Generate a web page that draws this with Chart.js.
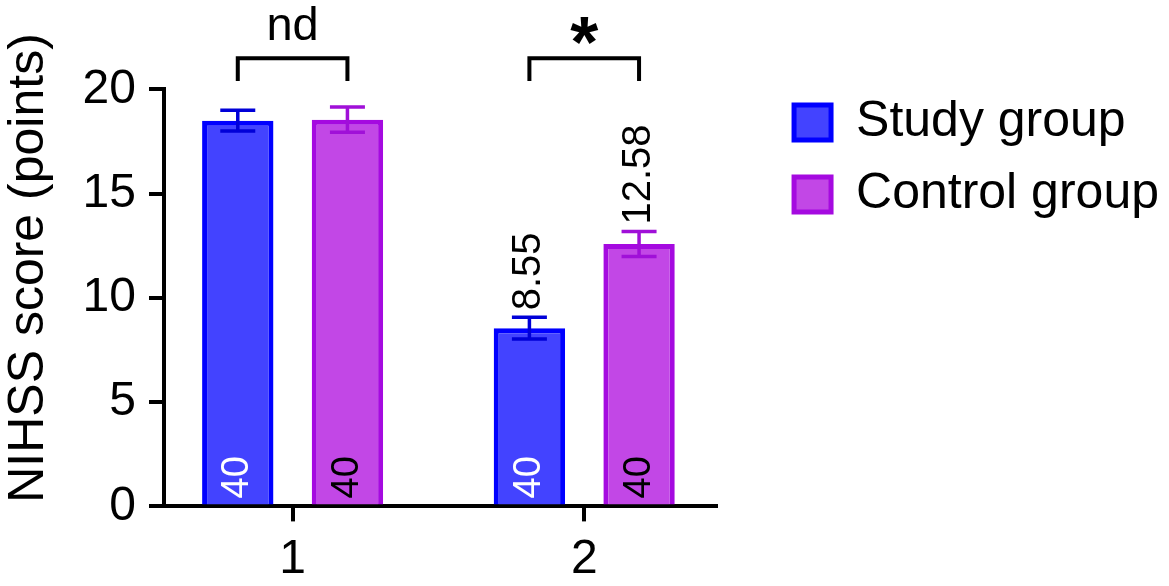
<!DOCTYPE html>
<html>
<head>
<meta charset="utf-8">
<script src="https://cdn.jsdelivr.net/npm/chart.js@4.4.1/dist/chart.umd.min.js"></script>
<style>
    html, body { margin: 0; padding: 0; background: #fff; }
    #wrap { width: 1169px; height: 586px; }
</style>
</head>
<body>
<div id="wrap"><canvas id="chart_canvas" width="1169" height="586"></canvas></div>
<script>
// data
const categories = ['1', '2'];
const xPositions = [1, 2];
const seriesNames = ['Study group', 'Control group'];
const studyMeans = [18.5, 8.55];
const studyErrors = [0.5, 0.52];
const controlMeans = [18.55, 12.58];
const controlErrors = [0.6, 0.6];
const studyCounts = [40, 40];
const controlCounts = [40, 40];
const studyValueLabels = ['', '8.55'];
const controlValueLabels = ['', '12.58'];
const significance = ['nd', '*'];
const yTicks = [0, 5, 10, 15, 20];
const yTitle = 'NIHSS score (points)';

const FONT = "'Liberation Sans', Arial, Helvetica, sans-serif";
Chart.defaults.font.family = FONT;
Chart.defaults.color = '#000';

function drawRotated(ctx, text, x, y, font, color) {
    ctx.save();
    ctx.translate(x, y);
    ctx.rotate(-Math.PI / 2);
    ctx.font = font;
    ctx.fillStyle = color;
    ctx.textAlign = 'left';
    ctx.textBaseline = 'middle';
    ctx.fillText(text, 0, 0);
    ctx.restore();
}

// error bars, n labels and value labels on top of the bars
const barExtras = {
    id: 'barExtras',
    afterDatasetsDraw(chart) {
        const ctx = chart.ctx;
        const yScale = chart.scales.y;
        chart.data.datasets.forEach((ds, di) => {
            const meta = chart.getDatasetMeta(di);
            meta.data.forEach((bar, i) => {
                const mean = ds.data[i].y;
                const top = yScale.getPixelForValue(mean + ds.errors[i]);
                const bottom = yScale.getPixelForValue(mean - ds.errors[i]);
                ctx.save();
                ctx.strokeStyle = ds.errorColor;
                ctx.lineWidth = 3.5;
                ctx.beginPath();
                ctx.moveTo(bar.x, top);
                ctx.lineTo(bar.x, bottom);
                ctx.moveTo(bar.x - 17.5, top);
                ctx.lineTo(bar.x + 17.5, top);
                ctx.moveTo(bar.x - 17.5, bottom);
                ctx.lineTo(bar.x + 17.5, bottom);
                ctx.stroke();
                ctx.restore();

                drawRotated(ctx, String(ds.counts[i]), bar.x, yScale.getPixelForValue(0) - 8, '38px ' + FONT, ds.countColor);
                if (ds.valueLabels[i]) {
                    drawRotated(ctx, ds.valueLabels[i], bar.x, top - 7, '40px ' + FONT, '#000');
                }
            });
        });
    }
};

// significance brackets and the y axis title
const annotations = {
    id: 'annotations',
    afterDraw(chart) {
        const ctx = chart.ctx;
        const yScale = chart.scales.y;
        const first = chart.getDatasetMeta(0).data;
        const second = chart.getDatasetMeta(1).data;
        const yb = yScale.getPixelForValue(21.5);
        const yl = yScale.getPixelForValue(20.4);

        categories.forEach((c, i) => {
            const x1 = first[i].x;
            const x2 = second[i].x;
            ctx.save();
            ctx.strokeStyle = '#000';
            ctx.lineWidth = 4;
            ctx.beginPath();
            ctx.moveTo(x1, yl);
            ctx.lineTo(x1, yb);
            ctx.lineTo(x2, yb);
            ctx.lineTo(x2, yl);
            ctx.stroke();

            const mid = (x1 + x2) / 2;
            ctx.fillStyle = '#000';
            ctx.textAlign = 'center';
            ctx.textBaseline = 'alphabetic';
            if (significance[i] === '*') {
                ctx.font = 'bold 72px ' + FONT;
                const m = ctx.measureText('*');
                const centre = yb - 28;
                ctx.fillText('*', mid, centre + (m.actualBoundingBoxAscent - m.actualBoundingBoxDescent) / 2);
            } else {
                ctx.font = '47px ' + FONT;
                ctx.fillText(significance[i], mid, yb - 18);
            }
            ctx.restore();
        });

        ctx.save();
        ctx.translate(29, 268);
        ctx.rotate(-Math.PI / 2);
        ctx.font = '50px ' + FONT;
        ctx.fillStyle = '#000';
        ctx.textAlign = 'center';
        ctx.textBaseline = 'middle';
        ctx.fillText(yTitle, 0, 0);
        ctx.restore();
    }
};

const axisLine = { display: true, color: '#000', width: 4 };
const tickMarks = { display: true, drawOnChartArea: false, drawTicks: true, tickLength: 15, lineWidth: 4, color: '#000', offset: false };

const ctx = document.getElementById('chart_canvas').getContext('2d');
const chart = new Chart(ctx, {
    type: 'bar',
    data: {
        datasets: [{
            label: seriesNames[0],
            data: xPositions.map((x, i) => ({ x: x, y: studyMeans[i] })),
            errors: studyErrors,
            counts: studyCounts,
            valueLabels: studyValueLabels,
            backgroundColor: '#4343FF',
            borderColor: '#0000FF',
            borderWidth: 5,
            errorColor: '#0000D8',
            countColor: '#FFFFFF',
            categoryPercentage: 0.752,
            barPercentage: 0.651,
            xAxisID: 'x',
            yAxisID: 'y'
        }, {
            label: seriesNames[1],
            data: xPositions.map((x, i) => ({ x: x, y: controlMeans[i] })),
            errors: controlErrors,
            counts: controlCounts,
            valueLabels: controlValueLabels,
            backgroundColor: '#C247E6',
            borderColor: '#A50AE0',
            borderWidth: 5,
            errorColor: '#A010D8',
            countColor: '#000000',
            categoryPercentage: 0.752,
            barPercentage: 0.651,
            xAxisID: 'x',
            yAxisID: 'y'
        }]
    },
    options: {
        responsive: false,
        animation: false,
        layout: { padding: { top: 75.5, right: 0, bottom: 0, left: 0 } },
        plugins: {
            tooltip: { enabled: false },
            legend: {
                position: 'right',
                align: 'start',
                maxWidth: 400,
                labels: {
                    boxWidth: 37,
                    boxHeight: 35,
                    padding: 22,
                    color: '#000',
                    font: { size: 50 }
                }
            }
        },
        scales: {
            x: {
                type: 'linear',
                position: 'bottom',
                offset: false,
                min: 0.559,
                max: 2.452,
                afterBuildTicks(scale) { scale.ticks = xPositions.map(v => ({ value: v })); },
                afterFit(scale) { scale.height = 79.6; },
                border: axisLine,
                grid: tickMarks,
                ticks: {
                    callback: (v, i) => categories[i],
                    color: '#000',
                    font: { size: 48 },
                    padding: 10,
                    maxRotation: 0
                }
            },
            y: {
                min: 0,
                max: 20,
                afterBuildTicks(scale) { scale.ticks = yTicks.map(v => ({ value: v })); },
                afterFit(scale) { scale.width = 164; },
                border: axisLine,
                grid: tickMarks,
                ticks: { color: '#000', font: { size: 48 }, padding: 13 }
            },
            // empty boxes that only hold space around the plot
            xTop: {
                type: 'linear', axis: 'x', position: 'top', offset: false,
                ticks: { display: false }, grid: { display: false }, border: { display: false },
                afterFit(scale) { scale.height = 13.9; }
            },
            yRight: {
                type: 'linear', axis: 'y', position: 'right',
                ticks: { display: false }, grid: { display: false }, border: { display: false },
                afterFit(scale) { scale.width = 56; }
            }
        }
    },
    plugins: [barExtras, annotations]
});
</script>
</body>
</html>
